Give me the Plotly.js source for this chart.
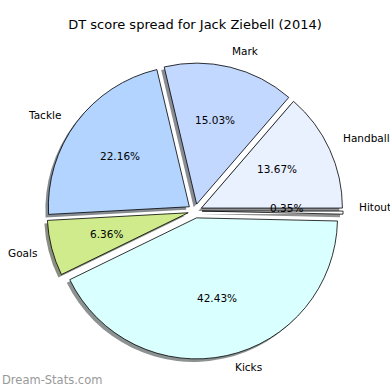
<!DOCTYPE html>
<html>
<head>
<meta charset="utf-8">
<script src="https://cdn.plot.ly/plotly-3.0.1.min.js"></script>
<style>html,body{margin:0;padding:0;background:#fff;}#chart{width:390px;height:390px;}</style>
</head>
<body>
<div id="chart"></div>
<script>
// Data (order drawn counterclockwise from 3 o'clock)
const labels = ['Hitouts', 'Handballs', 'Mark', 'Tackle', 'Goals', 'Kicks'];
const values = [0.35, 13.67, 15.03, 22.16, 6.36, 42.43];
const colors = ['#ffffff', '#e9f1ff', '#c3d8ff', '#b3d4ff', '#cfeb8c', '#d9ffff'];
const titleText = 'DT score spread for Jack Ziebell (2014)';
const watermark = 'Dream-Stats.com';

// Geometry / style
const W = 390, H = 390;
const cx = 195, cy = 211, R = 141, pull = 0.05;
const sh = 3; // shadow offset px
const textDy = -2; // text baseline tweak px
const font = 'DejaVu Sans, sans-serif';

function hexToRgb(h) {
  return [parseInt(h.slice(1, 3), 16), parseInt(h.slice(3, 5), 16), parseInt(h.slice(5, 7), 16)];
}
const shadowColors = colors.map(c => {
  const [r, g, b] = hexToRgb(c);
  const f = v => Math.round(0.5 * 255 + 0.5 * 0.3 * v) - 20;
  return `rgb(${f(r)},${f(g)},${f(b)})`;
});

const half = R * (1 + pull);
function dom(ox, oy) {
  return {
    x: [(cx + ox - half) / W, (cx + ox + half) / W],
    y: [1 - (cy + oy + half) / H, 1 - (cy + oy - half) / H]
  };
}

const base = {
  type: 'pie', labels: labels, values: values, sort: false,
  direction: 'counterclockwise', rotation: 90,
  pull: values.map(() => pull), textinfo: 'none', hoverinfo: 'label+percent',
  showlegend: false
};

const shadow = Object.assign({}, base, {
  domain: dom(-sh, sh),
  marker: { colors: shadowColors, line: { width: 0 } }
});
const main = Object.assign({}, base, {
  domain: dom(0, 0),
  marker: { colors: colors, line: { color: '#000000', width: 0.8 } }
});

// Text annotations positioned from the data (matplotlib-style)
const total = values.reduce((a, b) => a + b, 0);
const annotations = [];
let start = 0;
values.forEach((v, i) => {
  const span = v / total * 360;
  const mid = (start + span / 2) * Math.PI / 180;
  start += span;
  const c = Math.cos(mid), s = Math.sin(mid);
  const lr = R * (1.1 + pull), pr = R * (0.6 + pull);
  annotations.push({
    xref: 'paper', yref: 'paper', showarrow: false,
    x: (cx + lr * c) / W, y: 1 - (cy - lr * s + textDy) / H,
    xanchor: c > 0 ? 'left' : 'right', yanchor: 'middle',
    text: labels[i], font: { family: font, size: 10.5, color: '#000' }
  });
  annotations.push({
    xref: 'paper', yref: 'paper', showarrow: false,
    x: (cx + pr * c) / W, y: 1 - (cy - pr * s + textDy) / H,
    xanchor: 'center', yanchor: 'middle',
    text: v.toFixed(2) + '%', font: { family: font, size: 10.5, color: '#000' }
  });
});
annotations.push({
  xref: 'paper', yref: 'paper', showarrow: false,
  x: 0, y: 1 - 380 / H, xanchor: 'left', yanchor: 'middle',
  text: watermark, font: { family: font, size: 11.5, color: '#999999' }
});

const layout = {
  width: W, height: H,
  margin: { l: 0, r: 0, t: 0, b: 0 },
  paper_bgcolor: '#ffffff',
  title: { text: titleText, font: { family: font, size: 13, color: '#000' },
           x: 0.5, xanchor: 'center', y: 1 - 24 / H, yanchor: 'middle', yref: 'container' },
  annotations: annotations,
  showlegend: false
};

Plotly.newPlot('chart', [shadow, main], layout, { displayModeBar: false, staticPlot: true });
</script>
</body>
</html>
